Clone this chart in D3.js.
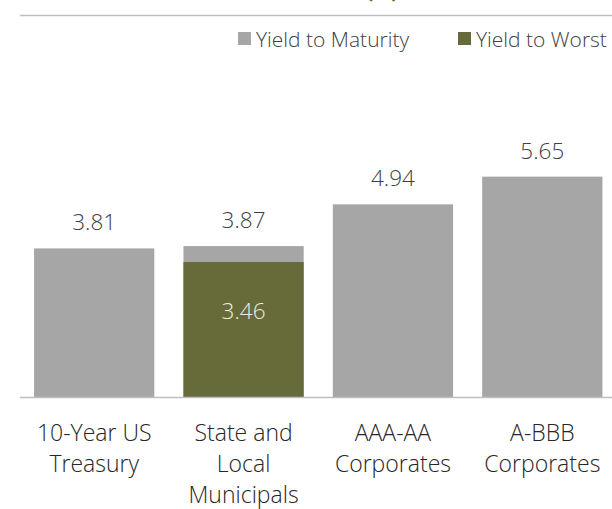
<!DOCTYPE html>
<html>
<head>
<meta charset="utf-8">
<script src="https://cdn.jsdelivr.net/npm/d3@7"></script>
<style>
  body { margin: 0; background: #fff; }
  svg { display: block; font-family: "Open Sans", sans-serif; }
  svg text { font-family: "Open Sans", sans-serif; }
</style>
</head>
<body>
<div id="chart"></div>
<script>
// Chart data
const categories = ['10-Year US Treasury', 'State and Local Municipals', 'AAA-AA Corporates', 'A-BBB Corporates'];
const categoryLines = [
  ['10-Year US', 'Treasury'],
  ['State and', 'Local', 'Municipals'],
  ['AAA-AA', 'Corporates'],
  ['A-BBB', 'Corporates']
];
const yieldToMaturity = [3.81, 3.87, 4.94, 5.65];
const yieldToWorst = [null, 3.46, null, null];
const seriesNames = ['Yield to Maturity', 'Yield to Worst'];

function drawChart(containerId) {
  const width = 612;
  const height = 509;
  const baseY = 397;
  const font = '"Open Sans", sans-serif';
  const colors = { ytm: '#a6a6a6', ytw: '#676a39', rule: '#bfbfbf' };

  const svg = d3.select(`#${containerId}`).append('svg')
    .attr('width', width)
    .attr('height', height);

  // Title sits mostly above the visible area (cropped in the original)
  svg.append('text')
    .attr('x', 398)
    .attr('y', -2)
    .attr('text-anchor', 'end')
    .attr('font-size', 20)
    .attr('font-weight', 700)
    .attr('fill', colors.ytw)
    .text('Yields (%)');

  // Rule under the title
  svg.append('line')
    .attr('x1', 20).attr('x2', width)
    .attr('y1', 15.5).attr('y2', 15.5)
    .attr('stroke', colors.rule)
    .attr('stroke-width', 1.5);

  // Scales
  const x = d3.scaleBand()
    .domain(categories)
    .range([19.5, 617])
    .paddingInner(0.195)
    .paddingOuter(0.0975);

  const y = d3.scaleLinear()
    .domain([0, 7])
    .range([baseY, baseY - 273]);

  // Legend
  const legendItems = [
    { name: seriesNames[0], color: colors.ytm, x: 238 },
    { name: seriesNames[1], color: colors.ytw, x: 458 }
  ];
  const legend = svg.append('g').attr('class', 'legend');
  legendItems.forEach(item => {
    legend.append('rect')
      .attr('x', item.x).attr('y', 32)
      .attr('width', 13).attr('height', 13)
      .attr('fill', item.color);
    legend.append('text')
      .attr('x', item.x + 18)
      .attr('y', 47)
      .attr('font-size', 21)
      .attr('font-weight', 300)
      .attr('fill', '#404040')
      .text(item.name);
  });

  // Yield to Maturity bars
  svg.append('g').selectAll('rect')
    .data(categories)
    .join('rect')
    .attr('x', d => x(d))
    .attr('width', x.bandwidth())
    .attr('y', (d, i) => y(yieldToMaturity[i]))
    .attr('height', (d, i) => y(0) - y(yieldToMaturity[i]))
    .attr('fill', colors.ytm);

  // Yield to Worst bars (overlaid)
  const ytwData = categories.map((c, i) => ({ c, v: yieldToWorst[i] })).filter(d => d.v != null);
  svg.append('g').selectAll('rect')
    .data(ytwData)
    .join('rect')
    .attr('x', d => x(d.c))
    .attr('width', x.bandwidth())
    .attr('y', d => y(d.v))
    .attr('height', d => y(0) - y(d.v))
    .attr('fill', colors.ytw);

  // Value labels above bars
  svg.append('g').selectAll('text')
    .data(categories)
    .join('text')
    .attr('x', d => x(d) + x.bandwidth() / 2)
    .attr('y', (d, i) => y(yieldToMaturity[i]) - 18)
    .attr('text-anchor', 'middle')
    .attr('font-size', 22.5)
    .attr('font-weight', 300)
    .attr('fill', '#404040')
    .text((d, i) => yieldToMaturity[i].toFixed(2));

  // Value labels inside Yield to Worst bars
  svg.append('g').selectAll('text')
    .data(ytwData)
    .join('text')
    .attr('x', d => x(d.c) + x.bandwidth() / 2)
    .attr('y', d => y(d.v) + 57)
    .attr('text-anchor', 'middle')
    .attr('font-size', 22.5)
    .attr('font-weight', 300)
    .attr('fill', '#ecece4')
    .text(d => d.v.toFixed(2));

  // Category axis
  const xAxis = d3.axisBottom(x).tickSize(0).tickFormat('');
  const axisG = svg.append('g')
    .attr('transform', `translate(0,${baseY})`)
    .call(xAxis)
    .attr('font-family', font);
  axisG.select('.domain')
    .attr('d', `M20,0.5H${width}`)
    .attr('stroke', colors.rule)
    .attr('stroke-width', 1.5);

  // Multi-line category labels
  axisG.selectAll('.tick').each(function(d, i) {
    const t = d3.select(this).append('text')
      .attr('text-anchor', 'middle')
      .attr('font-family', font)
      .attr('font-size', 23)
      .attr('font-weight', 300)
      .attr('fill', '#262626');
    categoryLines[i].forEach((line, j) => {
      t.append('tspan')
        .attr('x', 0)
        .attr('y', 44 + j * 31)
        .text(line);
    });
  });
}

drawChart('chart');
</script>
</body>
</html>
